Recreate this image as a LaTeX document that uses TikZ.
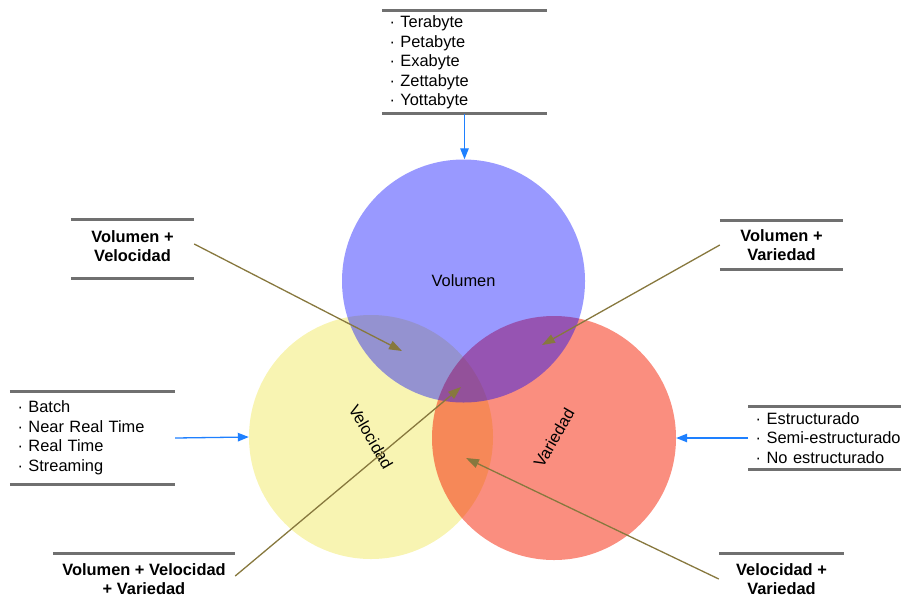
\documentclass[tikz,border=0pt]{standalone}
\usepackage{fontspec}
\setmainfont{Liberation Sans}
\usetikzlibrary{arrows.meta,calc}

\definecolor{velYellow}{RGB}{248,244,178}
\definecolor{varRed}{RGB}{245,30,0}
\definecolor{volBlue}{RGB}{0,0,255}
\definecolor{ruleGray}{RGB}{112,112,112}
\definecolor{linkBlue}{RGB}{30,128,255}
\definecolor{linkOlive}{RGB}{135,120,62}

\newcommand\diagfont{\fontsize{16.4pt}{19.5pt}\selectfont}

\tikzset{
  vcircle/.style={circle, inner sep=0pt, minimum size=244pt},
  listbox/.style={inner xsep=7.5pt, inner ysep=0pt, align=left, font=\diagfont},
  tagbox/.style={inner xsep=0pt, inner ysep=0pt, align=center, font=\diagfont\bfseries},
  rule/.style={draw=ruleGray, line width=3pt},
  feedarrow/.style={draw=linkBlue, line width=1.3pt, -{Triangle[length=11pt,width=8.5pt]}},
  pointarrow/.style={draw=linkOlive, line width=1.3pt, -{Triangle[length=13pt,width=9pt]}},
  circlabel/.style={font=\diagfont},
}

\begin{document}
\begin{tikzpicture}[x=1pt, y=-1pt]
\useasboundingbox (0,0) rectangle (901,600);

% the three "V" circles, blue on top
\node[vcircle, fill=velYellow] (vel) at (371,437) {};
\node[vcircle, fill=varRed, fill opacity=0.5] (var) at (554,438) {};
\node[vcircle, minimum size=243pt, fill=volBlue, fill opacity=0.4] (vol) at (463.5,281) {};

\node[circlabel] (volLabel) at (vol.center) {Volumen};
\node[circlabel, rotate=-60] (velLabel) at (vel.center) {Velocidad};
\node[circlabel, rotate=60] (varLabel) at (var.center) {Variedad};

% data size list
\node[listbox, text width=150pt, minimum height=102pt] (sizes) at (464.5,62.5)
  {· Terabyte\\ · Petabyte\\ · Exabyte\\ · Zettabyte\\ · Yottabyte};
\draw[rule] ([yshift=0.5pt]sizes.north west) -- ([yshift=0.5pt]sizes.north east);
\draw[rule] (sizes.south west) -- (sizes.south east);

% processing speed list
\node[listbox, text width=150pt, minimum height=93pt] (speed) at (92.5,438)
  {· Batch\\ · Near Real Time\\ · Real Time\\ · Streaming};
\draw[rule] (speed.north west) -- (speed.north east);
\draw[rule] (speed.south west) -- (speed.south east);

% data kind list
\node[listbox, text width=146pt, minimum height=63pt, anchor=west] (kinds) at (748,438)
  {· Estructurado\\ · Semi-estructurado\\ · No estructurado};
\draw[rule] (kinds.north west) -- (kinds.north east);
\draw[rule] (kinds.south west) -- (kinds.south east);

% intersection tags
\node[tagbox, minimum width=123pt, minimum height=52pt] (volvel) at (132.5,246)
  {Volumen +\\ Velocidad};
\draw[rule] (volvel.north west) -- (volvel.north east);
\draw[rule] ([yshift=-6pt]volvel.south west) -- ([yshift=-6pt]volvel.south east);

\node[tagbox, minimum width=123pt, minimum height=48pt] (volvar) at (781.5,245)
  {Volumen +\\ Variedad};
\draw[rule] (volvar.north west) -- (volvar.north east);
\draw[rule] (volvar.south west) -- (volvar.south east);

\node[tagbox, minimum width=182pt, minimum height=50pt] (allthree) at (144,579)
  {Volumen + Velocidad\\ + Variedad};
\draw[rule] (allthree.north west) -- (allthree.north east);

\node[tagbox, minimum width=125pt, minimum height=50pt] (velvar) at (781.5,579)
  {Velocidad +\\ Variedad};
\draw[rule] (velvar.north west) -- (velvar.north east);

% feeding arrows
\draw[feedarrow] (sizes.south) -- (sizes.south |- vol.north);
\draw[feedarrow] (speed.east) -- (vel.west);
\draw[feedarrow] (kinds.west) -- (var.east);

% arrows into the overlap regions
\coordinate (tipVolVel) at (402,351);
\coordinate (tipVolVar) at (542,345);
\coordinate (tipAll) at (461,387);
\coordinate (tipVelVar) at (466,458);

\draw[pointarrow] ([yshift=2pt]volvel.east) -- (tipVolVel);
\draw[pointarrow] (volvar.west) -- (tipVolVar);
\draw[pointarrow] ([yshift=3pt]allthree.east) -- (tipAll);
\draw[pointarrow] (velvar.west) -- (tipVelVar);
\end{tikzpicture}
\end{document}
